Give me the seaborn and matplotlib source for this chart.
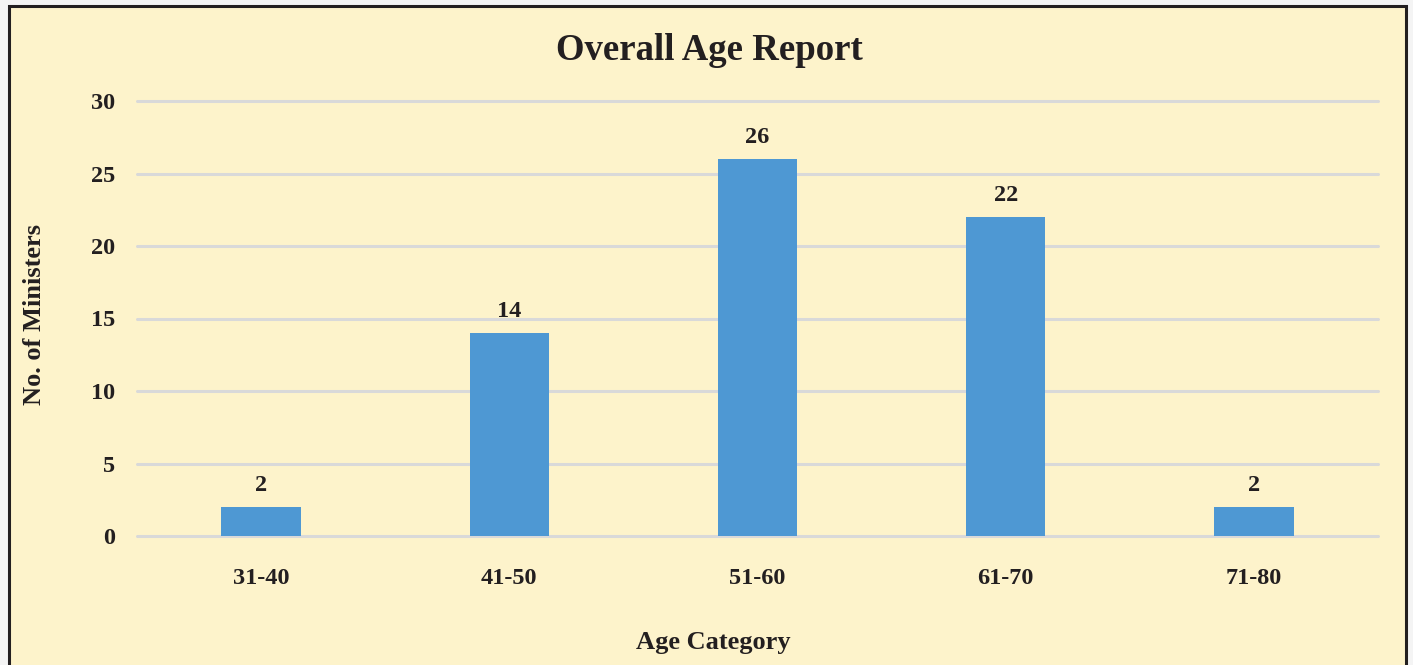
import matplotlib
matplotlib.use("Agg")
import matplotlib.pyplot as plt
from matplotlib.patches import Rectangle
import seaborn as sns
import pandas as pd

# Data
age_groups = ["31-40", "41-50", "51-60", "61-70", "71-80"]
ministers = [2, 14, 26, 22, 2]
y_ticks = [0, 5, 10, 15, 20, 25, 30]

sns.set_theme(style="white")
plt.rcParams["font.family"] = ["Liberation Serif", "DejaVu Serif"]
plt.rcParams["font.weight"] = "bold"

ink = "#231F20"
panel = "#FDF3CB"
bar_color = "#4E98D3"
grid_color = "#D9D9D9"

W, H = 1413, 665
fig = plt.figure(figsize=(W / 100, H / 100), dpi=100)
fig.patch.set_facecolor("#F4F4F4")

# Framed background panel
frame = Rectangle((9 / W, -0.05), (1406 - 9) / W, 1.05 - 6 / H,
                  transform=fig.transFigure, facecolor=panel,
                  edgecolor=ink, linewidth=2.2, zorder=-5)
fig.patches.append(frame)

left, right = 137 / W, 1378 / W
top, bottom = 1 - 101 / H, 1 - 536 / H
ax = fig.add_axes([left, bottom, right - left, top - bottom])
ax.set_facecolor("none")

df = pd.DataFrame({"Age Category": age_groups, "No. of Ministers": ministers})
sns.barplot(data=df, x="Age Category", y="No. of Ministers", color=bar_color,
            saturation=1, width=0.32, linewidth=0, ax=ax, zorder=3)

ax.set_xlim(-0.5, len(age_groups) - 0.5)
ax.set_ylim(0, 30)
ax.set_yticks(y_ticks)
for y in y_ticks:
    ax.axhline(y, color=grid_color, linewidth=2.2, zorder=1, clip_on=False)

for s in ax.spines.values():
    s.set_visible(False)

ax.tick_params(axis="both", length=0, labelsize=17.5, labelcolor=ink)
ax.tick_params(axis="x", pad=23)
ax.tick_params(axis="y", pad=16)
for lab in ax.get_xticklabels() + ax.get_yticklabels():
    lab.set_fontweight("bold")

for patch, v in zip(ax.patches, ministers):
    ax.annotate(f"{v}", (patch.get_x() + patch.get_width() / 2, v),
                xytext=(0, 8), textcoords="offset points",
                ha="center", va="bottom", fontsize=17.5, fontweight="bold",
                color=ink)

ax.set_xlabel("")
ax.set_ylabel("")
fig.text(713 / W, 1 - 642 / H, "Age Category", ha="center", va="center",
         fontsize=19, fontweight="bold", color=ink)
fig.text(35 / W, 1 - 315 / H, "No. of Ministers", ha="center", va="center",
         rotation=90, fontsize=19, fontweight="bold", color=ink)

fig.text((557 + 862) / 2 / W, 1 - 50 / H, "Overall Age Report",
         ha="center", va="center", fontsize=26.5, fontweight="bold", color=ink)

fig.savefig("out.png", dpi=100, facecolor=fig.get_facecolor())
